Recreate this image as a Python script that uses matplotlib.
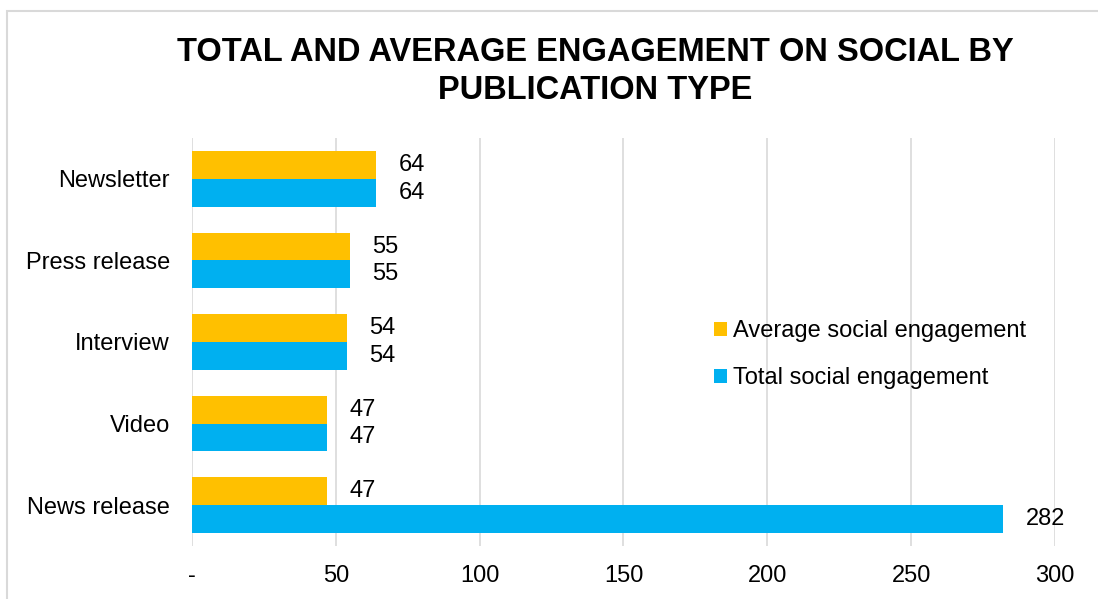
import numpy as np
import matplotlib.pyplot as plt
from matplotlib.patches import Rectangle

plt.rcParams['font.family'] = ['Liberation Sans', 'DejaVu Sans']

# Publication types, listed bottom to top
categories = ["News release", "Video", "Interview", "Press release", "Newsletter"]
total_engagement = [282, 47, 54, 55, 64]
average_engagement = [47, 47, 54, 55, 64]
x_ticks = [0, 50, 100, 150, 200, 250, 300]
x_tick_labels = ["-", "50", "100", "150", "200", "250", "300"]

yellow = "#FFC000"
blue = "#00B0F0"
grid_gray = "#D9D9D9"
fs = 17

fig = plt.figure(figsize=(10.98, 5.99), dpi=100)
ax = fig.add_axes([0.1749, 0.0885, 0.7859, 0.6811])

y = np.arange(len(categories))
h = 0.34
bars_avg = ax.barh(y + h / 2, average_engagement, height=h, color=yellow,
                   label="Average social engagement", zorder=3)
bars_tot = ax.barh(y - h / 2, total_engagement, height=h, color=blue,
                   label="Total social engagement", zorder=3)

for bars, vals in ((bars_avg, average_engagement), (bars_tot, total_engagement)):
    for b, v in zip(bars, vals):
        ax.annotate(str(v), (v, b.get_y() + b.get_height() / 2),
                    xytext=(16, 0), textcoords="offset points",
                    ha="left", va="center", fontsize=fs, color="#000000")

ax.set_xlim(0, 300)
ax.set_ylim(-0.5, len(categories) - 0.5)
ax.set_xticks(x_ticks)
ax.set_xticklabels(x_tick_labels)
ax.set_yticks(y)
ax.set_yticklabels(categories)
ax.tick_params(axis="both", length=0, labelsize=fs, colors="#000000")
ax.tick_params(axis="x", pad=14)
ax.tick_params(axis="y", pad=16)
ax.grid(axis="x", color=grid_gray, linewidth=1.2, zorder=0)
for s in ax.spines.values():
    s.set_visible(False)

ax.legend(handles=[bars_avg, bars_tot], loc="upper left",
          bbox_to_anchor=(0.650, 0.465), bbox_transform=fig.transFigure,
          frameon=False, fontsize=fs, handlelength=0.55, handleheight=0.55,
          handletextpad=0.25, labelspacing=1.05, borderpad=0, borderaxespad=0)

fig.text(0.542, 0.88, "TOTAL AND AVERAGE ENGAGEMENT ON SOCIAL BY\nPUBLICATION TYPE",
         ha="center", va="center", fontsize=23.5, fontweight="bold",
         linespacing=1.3, color="#000000")

# Light chart border
fig.patches.append(Rectangle((7 / 1098, -0.05), 1.2, 1 - 11 / 599 + 0.05,
                             transform=fig.transFigure, fill=False,
                             edgecolor=grid_gray, linewidth=1.5))

fig.savefig("out.png", dpi=100)
